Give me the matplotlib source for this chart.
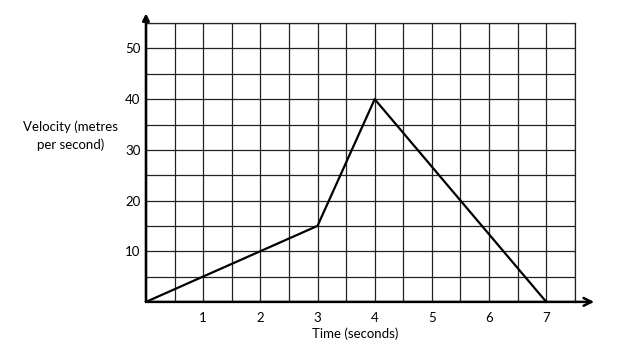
import matplotlib.pyplot as plt
import numpy as np

time_s = [0, 3, 4, 7]
velocity = [0, 15, 40, 0]
x_ticks = [1, 2, 3, 4, 5, 6, 7]
y_ticks = [10, 20, 30, 40, 50]

plt.rcParams['font.family'] = ['Lato', 'DejaVu Sans']

fig = plt.figure(figsize=(6.43, 3.56), dpi=100)
ax = fig.add_axes([0.227, 0.152, 0.667, 0.783])
ax.set_xlim(0, 7.5)
ax.set_ylim(0, 55)

# grid every half second / 5 m/s
ax.set_xticks(np.arange(0, 7.51, 0.5), minor=True)
ax.set_yticks(np.arange(0, 55.1, 5), minor=True)
ax.grid(which='both', color='#222222', linewidth=0.9)
ax.set_xticks(x_ticks)
ax.set_yticks(y_ticks)
ax.set_xticklabels([str(t) for t in x_ticks], fontsize=9.5)
ax.set_yticklabels([str(t) for t in y_ticks], fontsize=9.5)
ax.tick_params(which='both', length=0, pad=4)
ax.tick_params(axis='x', pad=7)
for s in ['left', 'bottom']:
    ax.spines[s].set_visible(False)
ax.spines['top'].set_color('#222222')
ax.spines['right'].set_color('#222222')
ax.spines['top'].set_linewidth(0.9)
ax.spines['right'].set_linewidth(0.9)

ax.plot(time_s, velocity, color='black', linewidth=1.6, clip_on=False, zorder=3)

# axis arrows
ax.annotate('', xy=(1.045, 0), xytext=(0, 0), xycoords='axes fraction',
            arrowprops=dict(arrowstyle='->', lw=1.8, color='black',
                            mutation_scale=14, shrinkA=0, shrinkB=0))
ax.annotate('', xy=(0, 1.035), xytext=(0, 0), xycoords='axes fraction',
            arrowprops=dict(arrowstyle='-|>', lw=1.8, color='black',
                            mutation_scale=10, shrinkA=0, shrinkB=0))

fig.text(0.11, 0.618, 'Velocity (metres\nper second)', ha='center', va='center',
         fontsize=9.5, linespacing=1.5)
fig.text(0.552, 0.062, 'Time (seconds)', ha='center', va='center', fontsize=9.5)

fig.savefig('out.png', dpi=100)
